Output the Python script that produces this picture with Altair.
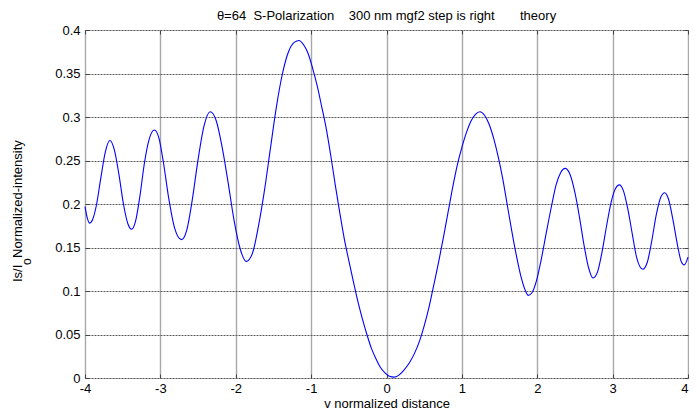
import altair as alt
import pandas as pd

# ---- data ----
x_vals = [-4.00, -3.97, -3.94, -3.90, -3.85, -3.79, -3.73, -3.67, -3.61, -3.55,
          -3.49, -3.43, -3.38, -3.33, -3.27, -3.21, -3.15, -3.08, -3.02, -2.96,
          -2.89, -2.81, -2.72, -2.65, -2.58, -2.50, -2.42, -2.34, -2.26, -2.18,
          -2.10, -2.02, -1.94, -1.86, -1.78, -1.70, -1.62, -1.54, -1.46, -1.38,
          -1.30, -1.22, -1.16, -1.10, -1.04, -0.98, -0.92, -0.86, -0.80, -0.74,
          -0.68, -0.62, -0.56, -0.50, -0.44, -0.38, -0.32, -0.26, -0.20, -0.14,
          -0.08, -0.02, 0.04, 0.10, 0.16, 0.22, 0.30, 0.37, 0.44, 0.50,
          0.56, 0.62, 0.70, 0.76, 0.82, 0.88, 0.94, 1.00, 1.06, 1.12,
          1.18, 1.24, 1.30, 1.36, 1.42, 1.48, 1.54, 1.60, 1.66, 1.72,
          1.78, 1.84, 1.88, 1.93, 1.99, 2.05, 2.12, 2.19, 2.25, 2.31,
          2.37, 2.43, 2.50, 2.56, 2.62, 2.68, 2.74, 2.80, 2.86, 2.92,
          2.98, 3.04, 3.09, 3.14, 3.20, 3.26, 3.32, 3.40, 3.46, 3.52,
          3.58, 3.64, 3.69, 3.74, 3.80, 3.86, 3.91, 3.95, 4.00]
y_vals = [0.197, 0.184, 0.178, 0.182, 0.198, 0.230, 0.260, 0.273, 0.262, 0.234,
          0.200, 0.177, 0.171, 0.180, 0.210, 0.248, 0.274, 0.285, 0.276, 0.248,
          0.207, 0.172, 0.159, 0.170, 0.203, 0.251, 0.290, 0.306, 0.296, 0.265,
          0.224, 0.180, 0.148, 0.134, 0.143, 0.174, 0.215, 0.264, 0.312, 0.350,
          0.375, 0.386, 0.388, 0.383, 0.373, 0.356, 0.336, 0.312, 0.287, 0.256,
          0.222, 0.190, 0.160, 0.135, 0.111, 0.088, 0.068, 0.050, 0.034, 0.022,
          0.012, 0.006, 0.002, 0.001, 0.003, 0.008, 0.017, 0.028, 0.043, 0.060,
          0.080, 0.104, 0.137, 0.164, 0.192, 0.220, 0.245, 0.265, 0.282, 0.295,
          0.303, 0.306, 0.302, 0.292, 0.276, 0.255, 0.230, 0.200, 0.170, 0.142,
          0.118, 0.101, 0.095, 0.098, 0.112, 0.135, 0.167, 0.198, 0.222, 0.236,
          0.241, 0.235, 0.213, 0.185, 0.153, 0.127, 0.115, 0.122, 0.145, 0.175,
          0.202, 0.218, 0.222, 0.216, 0.195, 0.166, 0.138, 0.125, 0.133, 0.158,
          0.188, 0.208, 0.213, 0.206, 0.182, 0.153, 0.134, 0.130, 0.139]

x_ticks = [-4, -3, -2, -1, 0, 1, 2, 3, 4]
y_ticks = [0, 0.05, 0.1, 0.15, 0.2, 0.25, 0.3, 0.35, 0.4]

NB = "\u00a0"
title_text = "\u03b8=64" + NB * 2 + "S-Polarization" + NB * 4 + "300 nm mgf2 step is right" + NB * 7 + "theory"
x_title = "v normalized distance"
y_title_main = "Is/I"
y_title_sub = "o"
y_title_rest = NB * 2 + "Normalized-intensity"

df = pd.DataFrame({"v": x_vals, "I": y_vals})

FONT = "Liberation Sans"
TICK = 4
W, H = 603, 348

xscale = alt.Scale(domain=[-4, 4], nice=False, zero=False)
yscale = alt.Scale(domain=[0, 0.4], nice=False, zero=False)

x_axis = alt.Axis(values=x_ticks, labelExpr="datum.value", title=x_title,
                  grid=True, gridColor="#a8a8a8", gridWidth=1.4,
                  domain=False, offset=-TICK, tickSize=TICK, tickColor="#444",
                  labelPadding=4, labelFontSize=13, labelColor="black", labelFont=FONT,
                  labelFlush=False,
                  labelAlign={"condition": {"test": "datum.value == 4", "value": "right"},
                              "value": "center"},
                  titleFont=FONT, titleFontSize=13,
                  titleFontWeight="normal", titleColor="black", titlePadding=2)
y_axis = alt.Axis(values=y_ticks, labelExpr="datum.value", title=None,
                  grid=True, gridColor="#5a5a5a", gridDash=[2, 1], gridWidth=1,
                  domain=False, offset=-TICK, tickSize=TICK, tickColor="#444",
                  labelPadding=5, labelFontSize=13, labelColor="black", labelFont=FONT,
                  labelFlush=False)

line = alt.Chart(df).mark_line(color="#0000ff", strokeWidth=1.1, interpolate="monotone").encode(
    x=alt.X("v:Q", scale=xscale, axis=x_axis),
    y=alt.Y("I:Q", scale=yscale, axis=y_axis),
)

x_axis_top = alt.Axis(orient="top", values=x_ticks, labels=False, title=None, grid=False,
                      domain=False, offset=-TICK, tickSize=TICK, tickColor="#444")
y_axis_right = alt.Axis(orient="right", values=y_ticks, labels=False, title=None, grid=False,
                        domain=False, offset=-TICK, tickSize=TICK, tickColor="#444")
frame = alt.Chart(df).mark_point(opacity=0).encode(
    x=alt.X("v:Q", scale=xscale, axis=x_axis_top),
    y=alt.Y("I:Q", scale=yscale, axis=y_axis_right),
)

one = pd.DataFrame({"k": [0]})
t_main = alt.Chart(one).mark_text(angle=270, align="left", baseline="alphabetic",
                                  font=FONT, fontSize=13, color="black").encode(
    x=alt.value(-63), y=alt.value(252), text=alt.value(y_title_main))
t_sub = alt.Chart(one).mark_text(angle=270, align="left", baseline="alphabetic",
                                 font=FONT, fontSize=12, color="black").encode(
    x=alt.value(-54), y=alt.value(235), text=alt.value(y_title_sub))
t_rest = alt.Chart(one).mark_text(angle=270, align="left", baseline="alphabetic",
                                  font=FONT, fontSize=13, color="black").encode(
    x=alt.value(-63), y=alt.value(228), text=alt.value(y_title_rest))

chart = alt.layer(line, frame, t_main, t_sub, t_rest).resolve_axis(
    x="independent", y="independent"
).properties(
    width=W, height=H,
    title=alt.TitleParams(title_text, font=FONT, fontSize=13, fontWeight="normal",
                          color="black", offset=1),
    autosize=alt.AutoSizeParams(type="none"),
    padding={"left": 77, "top": 22, "right": 1, "bottom": 31},
).configure_view(stroke="black", strokeWidth=1.5).configure(background="white")

chart.save("out.html", embed_options={"renderer": "svg", "actions": False})
